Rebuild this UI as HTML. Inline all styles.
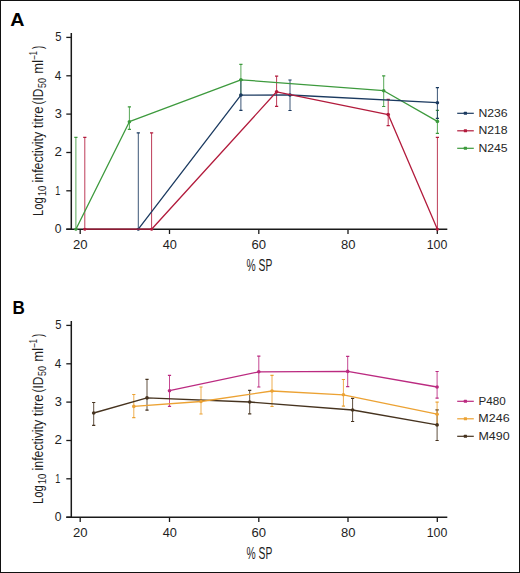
<!DOCTYPE html>
<html><head><meta charset="utf-8"><style>
html,body{margin:0;padding:0;background:#fff;}
svg{display:block;}
text{font-family:"Liberation Sans", sans-serif;font-kerning:none;}
</style></head><body>
<svg width="520" height="573" viewBox="0 0 520 573">
<rect x="0.5" y="0.5" width="519" height="572" fill="#fff" stroke="#111" stroke-width="1"/>
<path d="M71.3 33.1 V229.2 M66.3 229.2 H447.3" stroke="#1a1a1a" stroke-width="1.5" fill="none"/>
<path d="M66.3 229.2 H71.3" stroke="#1a1a1a" stroke-width="1.3"/>
<text transform="translate(54.83 233.00) scale(0.905 1)" font-size="13.4" fill="#1e1e1e">0</text>
<path d="M66.3 190.8 H71.3" stroke="#1a1a1a" stroke-width="1.3"/>
<text transform="translate(55.21 194.64) scale(0.675 1)" font-size="13.4" fill="#1e1e1e">1</text>
<path d="M66.3 152.5 H71.3" stroke="#1a1a1a" stroke-width="1.3"/>
<text transform="translate(54.53 156.28) scale(0.999 1)" font-size="13.4" fill="#1e1e1e">2</text>
<path d="M66.3 114.1 H71.3" stroke="#1a1a1a" stroke-width="1.3"/>
<text transform="translate(54.71 117.92) scale(0.960 1)" font-size="13.4" fill="#1e1e1e">3</text>
<path d="M66.3 75.8 H71.3" stroke="#1a1a1a" stroke-width="1.3"/>
<text transform="translate(54.73 79.56) scale(0.874 1)" font-size="13.4" fill="#1e1e1e">4</text>
<path d="M66.3 37.4 H71.3" stroke="#1a1a1a" stroke-width="1.3"/>
<text transform="translate(55.15 41.20) scale(0.834 1)" font-size="13.4" fill="#1e1e1e">5</text>
<path d="M80.2 229.2 V234.0" stroke="#1a1a1a" stroke-width="1.3"/>
<text transform="translate(73.04 249.20) scale(0.978 1)" font-size="13.4" fill="#1e1e1e">20</text>
<path d="M169.5 229.2 V234.0" stroke="#1a1a1a" stroke-width="1.3"/>
<text transform="translate(162.68 249.20) scale(0.952 1)" font-size="13.4" fill="#1e1e1e">40</text>
<path d="M258.8 229.2 V234.0" stroke="#1a1a1a" stroke-width="1.3"/>
<text transform="translate(251.58 249.20) scale(0.978 1)" font-size="13.4" fill="#1e1e1e">60</text>
<path d="M348.0 229.2 V234.0" stroke="#1a1a1a" stroke-width="1.3"/>
<text transform="translate(340.96 249.20) scale(0.971 1)" font-size="13.4" fill="#1e1e1e">80</text>
<path d="M437.3 229.2 V234.0" stroke="#1a1a1a" stroke-width="1.3"/>
<text transform="translate(426.76 249.20) scale(0.922 1)" font-size="13.4" fill="#1e1e1e">100</text>
<text transform="translate(246.53 270.70) scale(0.662 1)" font-size="15.6" fill="#1e1e1e">% SP</text>
<g><text transform="translate(42.60 0) rotate(-90) translate(-215.92 0) scale(0.775 1)" font-size="14.5" fill="#1e1e1e">Log</text><text transform="translate(45.80 0) rotate(-90) translate(-196.23 0) scale(0.875 1)" font-size="11" fill="#1e1e1e">10</text><text transform="translate(42.60 0) rotate(-90) translate(-182.42 0) scale(0.849 1)" font-size="14.5" fill="#1e1e1e">infectivity</text><text transform="translate(42.60 0) rotate(-90) translate(-128.20 0) scale(0.905 1)" font-size="14.5" fill="#1e1e1e">titre</text><text transform="translate(42.60 0) rotate(-90) translate(-104.44 0) scale(0.818 1)" font-size="14.5" fill="#1e1e1e">(ID</text><text transform="translate(46.00 0) rotate(-90) translate(-88.06 0) scale(0.818 1)" font-size="11" fill="#1e1e1e">50</text><text transform="translate(42.60 0) rotate(-90) translate(-73.66 0) scale(0.898 1)" font-size="14.5" fill="#1e1e1e">ml</text><text transform="translate(37.20 0) rotate(-90) translate(-59.50 0) scale(0.675 1)" font-size="11" fill="#1e1e1e">–1</text><text transform="translate(42.60 0) rotate(-90) translate(-48.96 0) scale(0.650 1)" font-size="14.5" fill="#1e1e1e">)</text></g>
<text transform="translate(10.31 25.90) scale(1.036 1)" font-size="19" font-weight="bold" fill="#000">A</text>
<path d="M75.9 137.3 V229.2" stroke="#3d9a3d" stroke-width="1" opacity="0.85"/>
<path d="M74.3 137.3 H77.5 M74.3 229.2 H77.5" stroke="#3d9a3d" stroke-width="1.2"/>
<path d="M129.4 106.8 V129.3" stroke="#3d9a3d" stroke-width="1" opacity="0.85"/>
<path d="M127.8 106.8 H131.0 M127.8 129.3 H131.0" stroke="#3d9a3d" stroke-width="1.2"/>
<path d="M240.9 64.4 V95.1" stroke="#3d9a3d" stroke-width="1" opacity="0.85"/>
<path d="M239.3 64.4 H242.5 M239.3 95.1 H242.5" stroke="#3d9a3d" stroke-width="1.2"/>
<path d="M383.7 75.9 V106.5" stroke="#3d9a3d" stroke-width="1" opacity="0.85"/>
<path d="M382.1 75.9 H385.3 M382.1 106.5 H385.3" stroke="#3d9a3d" stroke-width="1.2"/>
<path d="M437.4 110.4 V133.3" stroke="#3d9a3d" stroke-width="1" opacity="0.85"/>
<path d="M435.8 110.4 H439.0 M435.8 133.3 H439.0" stroke="#3d9a3d" stroke-width="1.2"/>
<path d="M138.3 132.9 V229.2" stroke="#1b3a60" stroke-width="1" opacity="0.85"/>
<path d="M136.7 132.9 H139.9 M136.7 229.2 H139.9" stroke="#1b3a60" stroke-width="1.2"/>
<path d="M240.9 79.8 V110.3" stroke="#1b3a60" stroke-width="1" opacity="0.85"/>
<path d="M239.3 79.8 H242.5 M239.3 110.3 H242.5" stroke="#1b3a60" stroke-width="1.2"/>
<path d="M290.0 80.0 V110.5" stroke="#1b3a60" stroke-width="1" opacity="0.85"/>
<path d="M288.4 80.0 H291.6 M288.4 110.5 H291.6" stroke="#1b3a60" stroke-width="1.2"/>
<path d="M437.4 87.6 V118.3" stroke="#1b3a60" stroke-width="1" opacity="0.85"/>
<path d="M435.8 87.6 H439.0 M435.8 118.3 H439.0" stroke="#1b3a60" stroke-width="1.2"/>
<path d="M84.8 137.3 V229.2" stroke="#b21b3c" stroke-width="1" opacity="0.85"/>
<path d="M83.2 137.3 H86.4 M83.2 229.2 H86.4" stroke="#b21b3c" stroke-width="1.2"/>
<path d="M151.6 132.9 V229.2" stroke="#b21b3c" stroke-width="1" opacity="0.85"/>
<path d="M150.0 132.9 H153.2 M150.0 229.2 H153.2" stroke="#b21b3c" stroke-width="1.2"/>
<path d="M276.6 76.1 V106.4" stroke="#b21b3c" stroke-width="1" opacity="0.85"/>
<path d="M275.0 76.1 H278.2 M275.0 106.4 H278.2" stroke="#b21b3c" stroke-width="1.2"/>
<path d="M388.2 99.3 V125.6" stroke="#b21b3c" stroke-width="1" opacity="0.85"/>
<path d="M386.6 99.3 H389.8 M386.6 125.6 H389.8" stroke="#b21b3c" stroke-width="1.2"/>
<path d="M437.4 137.3 V229.2" stroke="#b21b3c" stroke-width="1" opacity="0.85"/>
<path d="M435.8 137.3 H439.0 M435.8 229.2 H439.0" stroke="#b21b3c" stroke-width="1.2"/>
<path d="M75.9 229.2 L129.4 121.7 L240.9 79.8 L383.7 90.7 L437.4 121.4" stroke="#3d9a3d" stroke-width="1.3" fill="none" stroke-linejoin="round"/>
<circle cx="75.9" cy="229.2" r="1.5" fill="#3d9a3d"/>
<circle cx="129.4" cy="121.7" r="1.8" fill="#3d9a3d"/>
<circle cx="240.9" cy="79.8" r="1.8" fill="#3d9a3d"/>
<circle cx="383.7" cy="90.7" r="1.8" fill="#3d9a3d"/>
<circle cx="437.4" cy="121.4" r="1.8" fill="#3d9a3d"/>
<path d="M138.3 229.2 L240.9 95.1 L290.0 95.0 L437.4 102.7" stroke="#1b3a60" stroke-width="1.3" fill="none" stroke-linejoin="round"/>
<circle cx="138.3" cy="229.2" r="1.5" fill="#1b3a60"/>
<circle cx="240.9" cy="95.1" r="1.8" fill="#1b3a60"/>
<circle cx="290.0" cy="95.0" r="1.8" fill="#1b3a60"/>
<circle cx="437.4" cy="102.7" r="1.8" fill="#1b3a60"/>
<path d="M84.8 229.2 L151.6 229.2 L276.6 91.8 L388.2 114.6 L437.4 229.2" stroke="#b21b3c" stroke-width="1.3" fill="none" stroke-linejoin="round"/>
<circle cx="84.8" cy="229.2" r="1.5" fill="#b21b3c"/>
<circle cx="151.6" cy="229.2" r="1.5" fill="#b21b3c"/>
<circle cx="276.6" cy="91.8" r="1.8" fill="#b21b3c"/>
<circle cx="388.2" cy="114.6" r="1.8" fill="#b21b3c"/>
<circle cx="437.4" cy="229.2" r="1.5" fill="#b21b3c"/>
<path d="M457.2 113.3 H473.8" stroke="#1b3a60" stroke-width="1.2"/>
<rect x="463.8" y="111.8" width="3.2" height="3.0" rx="0.5" fill="#1b3a60"/>
<text transform="translate(478.40 116.80) scale(1.054 1)" font-size="11.6" fill="#262626">N236</text>
<path d="M457.2 130.8 H473.8" stroke="#b21b3c" stroke-width="1.2"/>
<rect x="463.8" y="129.3" width="3.2" height="3.0" rx="0.5" fill="#b21b3c"/>
<text transform="translate(478.40 134.30) scale(1.054 1)" font-size="11.6" fill="#262626">N218</text>
<path d="M457.2 148.3 H473.8" stroke="#3d9a3d" stroke-width="1.2"/>
<rect x="463.8" y="146.8" width="3.2" height="3.0" rx="0.5" fill="#3d9a3d"/>
<text transform="translate(478.40 151.80) scale(1.054 1)" font-size="11.6" fill="#262626">N245</text>
<path d="M71.3 321.1 V517.2 M66.3 517.2 H447.3" stroke="#1a1a1a" stroke-width="1.5" fill="none"/>
<path d="M66.3 517.2 H71.3" stroke="#1a1a1a" stroke-width="1.3"/>
<text transform="translate(54.83 521.00) scale(0.905 1)" font-size="13.4" fill="#1e1e1e">0</text>
<path d="M66.3 478.8 H71.3" stroke="#1a1a1a" stroke-width="1.3"/>
<text transform="translate(55.21 482.64) scale(0.675 1)" font-size="13.4" fill="#1e1e1e">1</text>
<path d="M66.3 440.5 H71.3" stroke="#1a1a1a" stroke-width="1.3"/>
<text transform="translate(54.53 444.28) scale(0.999 1)" font-size="13.4" fill="#1e1e1e">2</text>
<path d="M66.3 402.1 H71.3" stroke="#1a1a1a" stroke-width="1.3"/>
<text transform="translate(54.71 405.92) scale(0.960 1)" font-size="13.4" fill="#1e1e1e">3</text>
<path d="M66.3 363.8 H71.3" stroke="#1a1a1a" stroke-width="1.3"/>
<text transform="translate(54.73 367.56) scale(0.874 1)" font-size="13.4" fill="#1e1e1e">4</text>
<path d="M66.3 325.4 H71.3" stroke="#1a1a1a" stroke-width="1.3"/>
<text transform="translate(55.15 329.20) scale(0.834 1)" font-size="13.4" fill="#1e1e1e">5</text>
<path d="M80.2 517.2 V522.0" stroke="#1a1a1a" stroke-width="1.3"/>
<text transform="translate(73.04 537.20) scale(0.978 1)" font-size="13.4" fill="#1e1e1e">20</text>
<path d="M169.5 517.2 V522.0" stroke="#1a1a1a" stroke-width="1.3"/>
<text transform="translate(162.68 537.20) scale(0.952 1)" font-size="13.4" fill="#1e1e1e">40</text>
<path d="M258.8 517.2 V522.0" stroke="#1a1a1a" stroke-width="1.3"/>
<text transform="translate(251.58 537.20) scale(0.978 1)" font-size="13.4" fill="#1e1e1e">60</text>
<path d="M348.0 517.2 V522.0" stroke="#1a1a1a" stroke-width="1.3"/>
<text transform="translate(340.96 537.20) scale(0.971 1)" font-size="13.4" fill="#1e1e1e">80</text>
<path d="M437.3 517.2 V522.0" stroke="#1a1a1a" stroke-width="1.3"/>
<text transform="translate(426.76 537.20) scale(0.922 1)" font-size="13.4" fill="#1e1e1e">100</text>
<text transform="translate(246.53 558.70) scale(0.662 1)" font-size="15.6" fill="#1e1e1e">% SP</text>
<g><text transform="translate(42.60 0) rotate(-90) translate(-503.92 0) scale(0.775 1)" font-size="14.5" fill="#1e1e1e">Log</text><text transform="translate(45.80 0) rotate(-90) translate(-484.23 0) scale(0.875 1)" font-size="11" fill="#1e1e1e">10</text><text transform="translate(42.60 0) rotate(-90) translate(-470.42 0) scale(0.849 1)" font-size="14.5" fill="#1e1e1e">infectivity</text><text transform="translate(42.60 0) rotate(-90) translate(-416.20 0) scale(0.905 1)" font-size="14.5" fill="#1e1e1e">titre</text><text transform="translate(42.60 0) rotate(-90) translate(-392.44 0) scale(0.818 1)" font-size="14.5" fill="#1e1e1e">(ID</text><text transform="translate(46.00 0) rotate(-90) translate(-376.06 0) scale(0.818 1)" font-size="11" fill="#1e1e1e">50</text><text transform="translate(42.60 0) rotate(-90) translate(-361.66 0) scale(0.898 1)" font-size="14.5" fill="#1e1e1e">ml</text><text transform="translate(37.20 0) rotate(-90) translate(-347.50 0) scale(0.675 1)" font-size="11" fill="#1e1e1e">–1</text><text transform="translate(42.60 0) rotate(-90) translate(-336.96 0) scale(0.650 1)" font-size="14.5" fill="#1e1e1e">)</text></g>
<text transform="translate(12.46 313.80) scale(0.898 1)" font-size="19" font-weight="bold" fill="#000">B</text>
<path d="M93.7 402.5 V425.3" stroke="#46331f" stroke-width="1" opacity="0.85"/>
<path d="M92.1 402.5 H95.3 M92.1 425.3 H95.3" stroke="#46331f" stroke-width="1.2"/>
<path d="M147.0 379.4 V410.1" stroke="#46331f" stroke-width="1" opacity="0.85"/>
<path d="M145.4 379.4 H148.6 M145.4 410.1 H148.6" stroke="#46331f" stroke-width="1.2"/>
<path d="M249.7 390.3 V413.8" stroke="#46331f" stroke-width="1" opacity="0.85"/>
<path d="M248.1 390.3 H251.3 M248.1 413.8 H251.3" stroke="#46331f" stroke-width="1.2"/>
<path d="M352.6 398.3 V421.5" stroke="#46331f" stroke-width="1" opacity="0.85"/>
<path d="M351.0 398.3 H354.2 M351.0 421.5 H354.2" stroke="#46331f" stroke-width="1.2"/>
<path d="M437.1 409.8 V440.5" stroke="#46331f" stroke-width="1" opacity="0.85"/>
<path d="M435.5 409.8 H438.7 M435.5 440.5 H438.7" stroke="#46331f" stroke-width="1.2"/>
<path d="M133.8 394.5 V417.6" stroke="#eca233" stroke-width="1" opacity="0.85"/>
<path d="M132.2 394.5 H135.4 M132.2 417.6 H135.4" stroke="#eca233" stroke-width="1.2"/>
<path d="M201.0 387.0 V414.0" stroke="#eca233" stroke-width="1" opacity="0.85"/>
<path d="M199.4 387.0 H202.6 M199.4 414.0 H202.6" stroke="#eca233" stroke-width="1.2"/>
<path d="M272.0 375.4 V406.5" stroke="#eca233" stroke-width="1" opacity="0.85"/>
<path d="M270.4 375.4 H273.6 M270.4 406.5 H273.6" stroke="#eca233" stroke-width="1.2"/>
<path d="M343.4 379.5 V406.1" stroke="#eca233" stroke-width="1" opacity="0.85"/>
<path d="M341.8 379.5 H345.0 M341.8 406.1 H345.0" stroke="#eca233" stroke-width="1.2"/>
<path d="M437.1 402.1 V425.1" stroke="#eca233" stroke-width="1" opacity="0.85"/>
<path d="M435.5 402.1 H438.7 M435.5 425.1 H438.7" stroke="#eca233" stroke-width="1.2"/>
<path d="M169.5 375.4 V406.3" stroke="#bb2a80" stroke-width="1" opacity="0.85"/>
<path d="M167.9 375.4 H171.1 M167.9 406.3 H171.1" stroke="#bb2a80" stroke-width="1.2"/>
<path d="M258.8 356.1 V387.0" stroke="#bb2a80" stroke-width="1" opacity="0.85"/>
<path d="M257.2 356.1 H260.4 M257.2 387.0 H260.4" stroke="#bb2a80" stroke-width="1.2"/>
<path d="M347.7 356.3 V386.7" stroke="#bb2a80" stroke-width="1" opacity="0.85"/>
<path d="M346.1 356.3 H349.3 M346.1 386.7 H349.3" stroke="#bb2a80" stroke-width="1.2"/>
<path d="M437.1 371.5 V398.1" stroke="#bb2a80" stroke-width="1" opacity="0.85"/>
<path d="M435.5 371.5 H438.7 M435.5 398.1 H438.7" stroke="#bb2a80" stroke-width="1.2"/>
<path d="M93.7 413.0 L147.0 397.9 L249.7 402.0 L352.6 410.0 L437.1 424.9" stroke="#46331f" stroke-width="1.3" fill="none" stroke-linejoin="round"/>
<circle cx="93.7" cy="413.0" r="1.8" fill="#46331f"/>
<circle cx="147.0" cy="397.9" r="1.8" fill="#46331f"/>
<circle cx="249.7" cy="402.0" r="1.8" fill="#46331f"/>
<circle cx="352.6" cy="410.0" r="1.8" fill="#46331f"/>
<circle cx="437.1" cy="424.9" r="1.8" fill="#46331f"/>
<path d="M133.8 406.4 L201.0 401.5 L272.0 391.0 L343.4 394.8 L437.1 414.2" stroke="#eca233" stroke-width="1.3" fill="none" stroke-linejoin="round"/>
<circle cx="133.8" cy="406.4" r="1.8" fill="#eca233"/>
<circle cx="201.0" cy="401.5" r="1.8" fill="#eca233"/>
<circle cx="272.0" cy="391.0" r="1.8" fill="#eca233"/>
<circle cx="343.4" cy="394.8" r="1.8" fill="#eca233"/>
<circle cx="437.1" cy="414.2" r="1.8" fill="#eca233"/>
<path d="M169.5 390.7 L258.8 371.8 L347.7 371.4 L437.1 387.0" stroke="#bb2a80" stroke-width="1.3" fill="none" stroke-linejoin="round"/>
<circle cx="169.5" cy="390.7" r="1.8" fill="#bb2a80"/>
<circle cx="258.8" cy="371.8" r="1.8" fill="#bb2a80"/>
<circle cx="347.7" cy="371.4" r="1.8" fill="#bb2a80"/>
<circle cx="437.1" cy="387.0" r="1.8" fill="#bb2a80"/>
<path d="M457.2 401.3 H473.8" stroke="#bb2a80" stroke-width="1.2"/>
<rect x="463.8" y="399.8" width="3.2" height="3.0" rx="0.5" fill="#bb2a80"/>
<text transform="translate(478.44 404.80) scale(1.004 1)" font-size="11.6" fill="#262626">P480</text>
<path d="M457.2 418.8 H473.8" stroke="#eca233" stroke-width="1.2"/>
<rect x="463.8" y="417.3" width="3.2" height="3.0" rx="0.5" fill="#eca233"/>
<text transform="translate(478.37 422.30) scale(1.078 1)" font-size="11.6" fill="#262626">M246</text>
<path d="M457.2 436.3 H473.8" stroke="#46331f" stroke-width="1.2"/>
<rect x="463.8" y="434.8" width="3.2" height="3.0" rx="0.5" fill="#46331f"/>
<text transform="translate(478.38 439.80) scale(1.076 1)" font-size="11.6" fill="#262626">M490</text>
</svg>
</body></html>
